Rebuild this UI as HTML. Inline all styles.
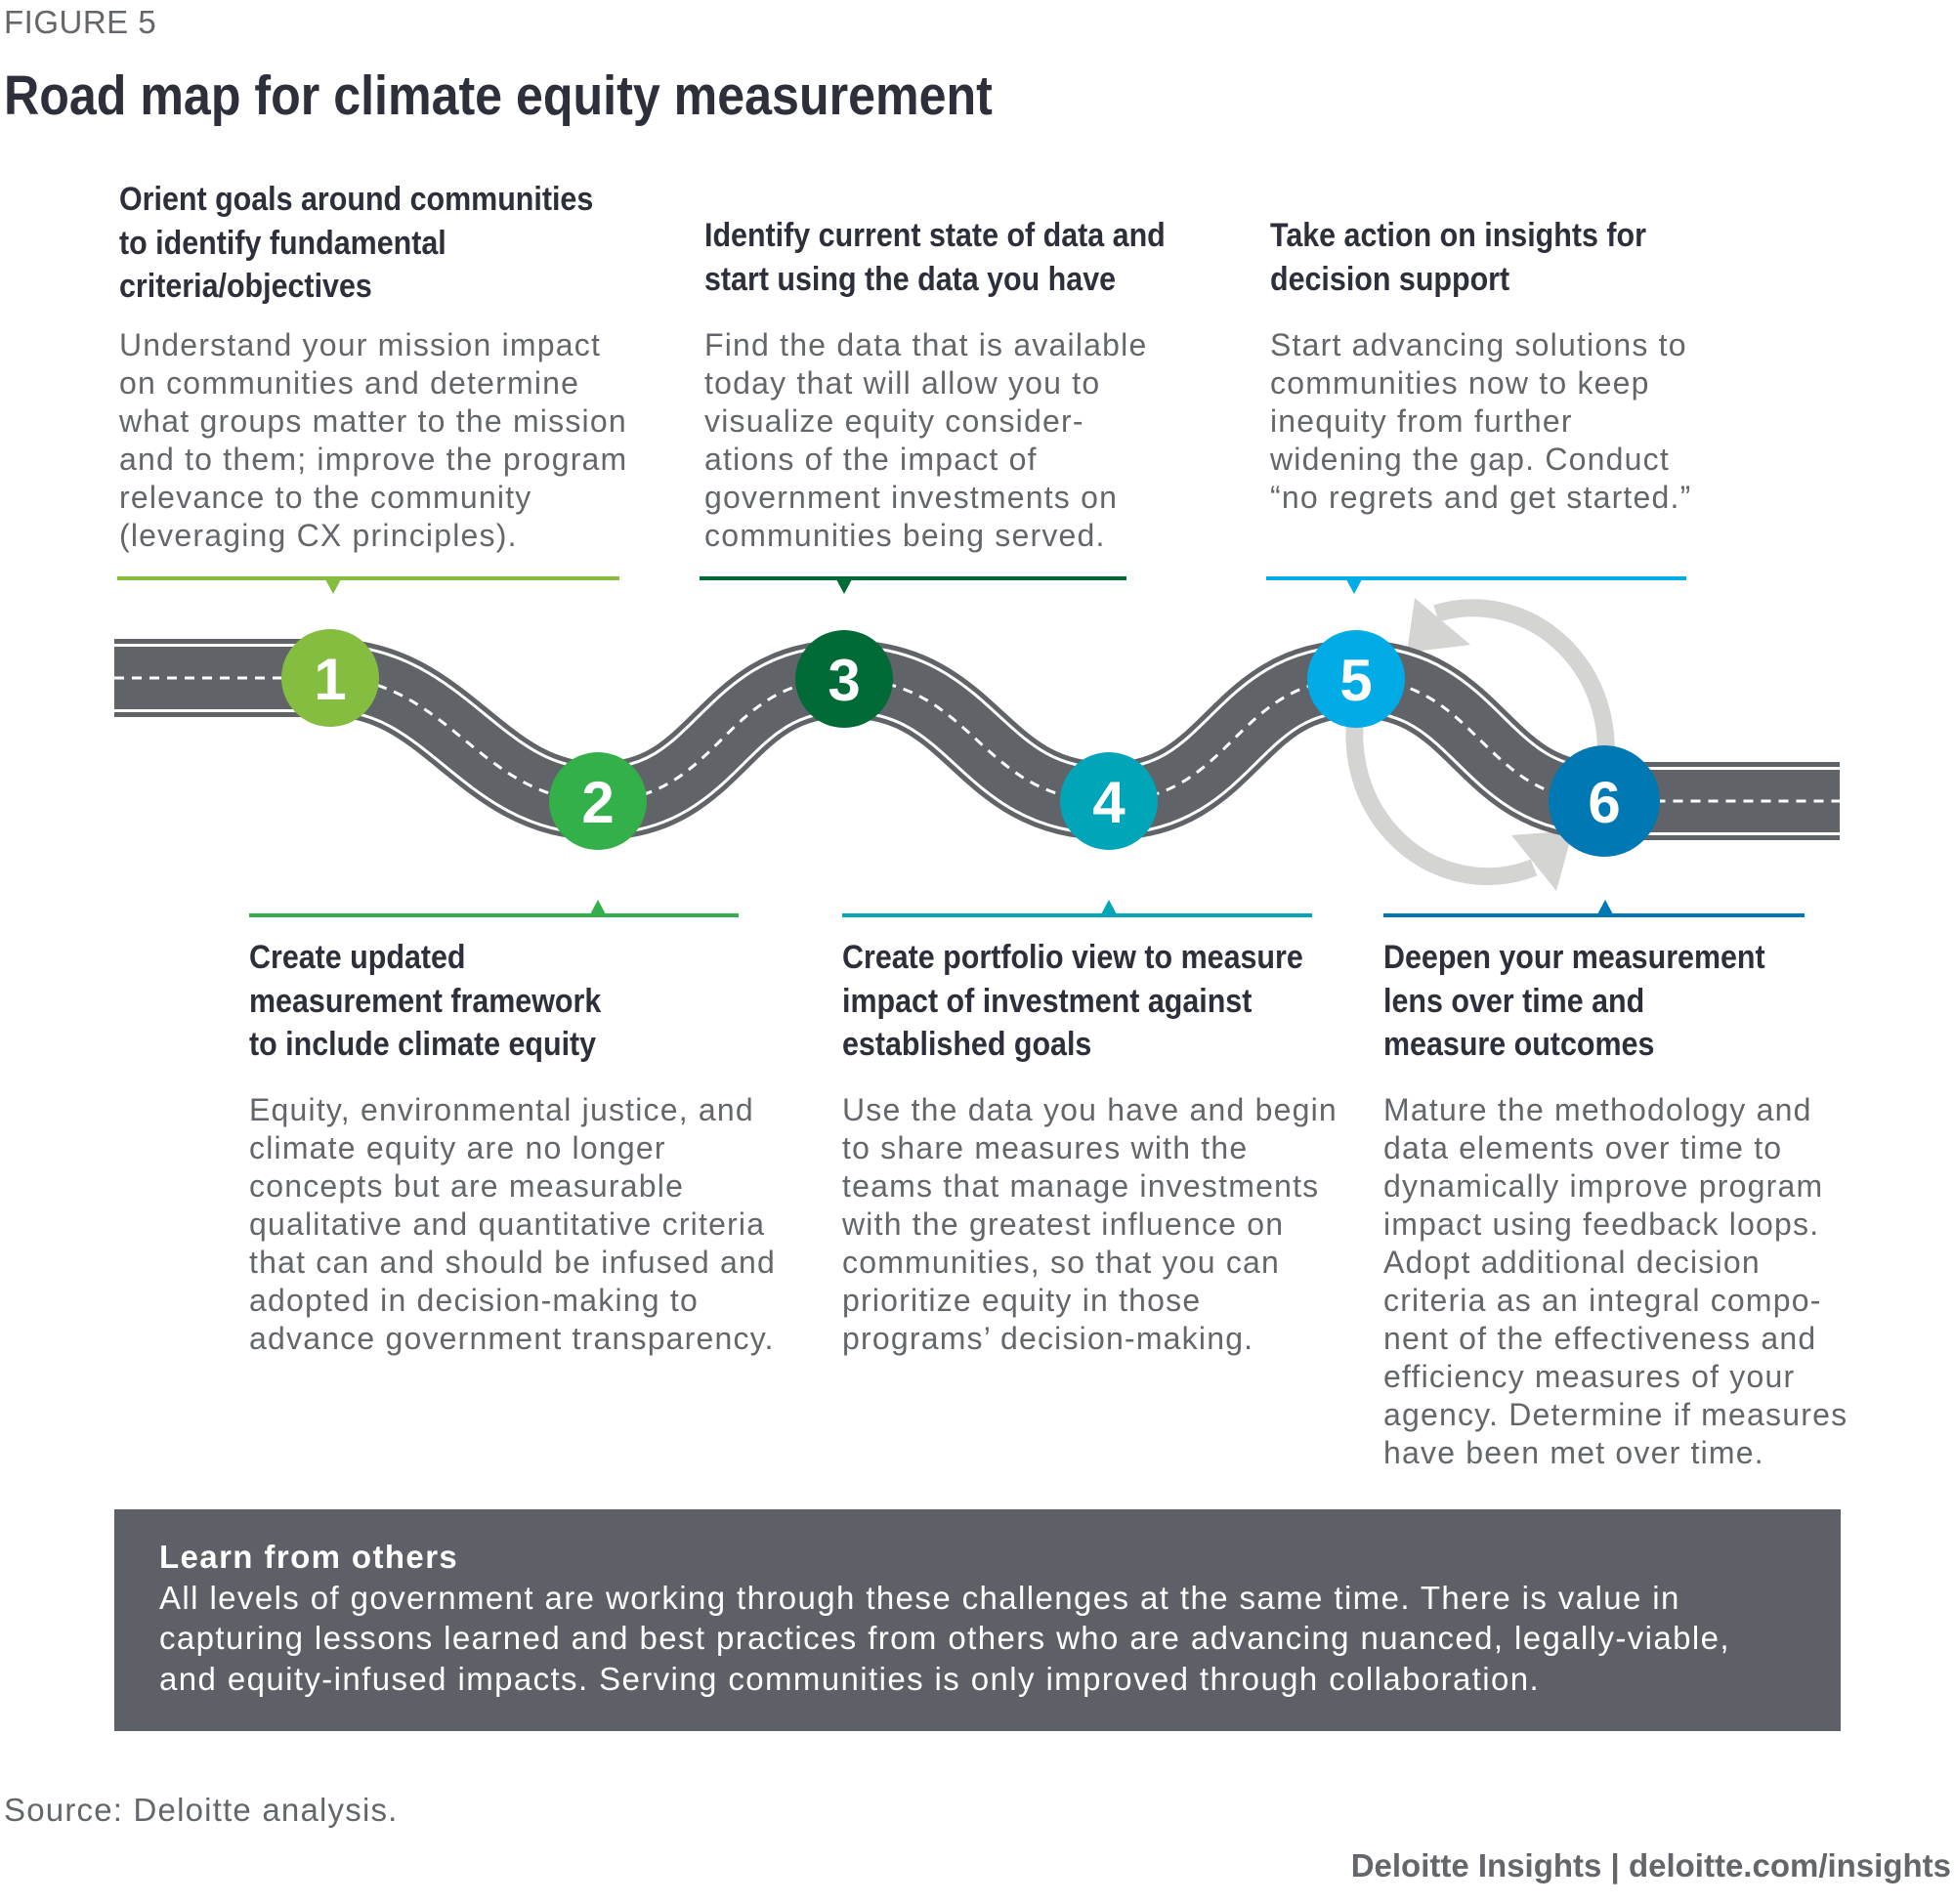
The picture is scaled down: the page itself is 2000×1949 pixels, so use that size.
<!DOCTYPE html>
<html><head><meta charset="utf-8"><style>
*{margin:0;padding:0;box-sizing:border-box}
body{width:2000px;height:1949px;background:#fff;position:relative;overflow:hidden;font-family:"Liberation Sans",sans-serif;color:#5f6368}
.a{position:absolute;white-space:nowrap}
.h{font-weight:bold;color:#2d2f3a;font-size:34px;line-height:44.6px;transform:scaleX(.895);transform-origin:0 0}
.b{font-size:32px;line-height:39px;color:#63666a;letter-spacing:1.2px}
</style></head><body>
<div class="a" style="left:4px;top:4px;font-size:33px;line-height:38px;color:#63666a;letter-spacing:.5px">FIGURE 5</div>
<div class="a" style="left:4px;top:66px;font-size:57px;line-height:64px;font-weight:bold;color:#2d2f3a;transform:scaleX(.88);transform-origin:0 0">Road map for climate equity measurement</div>

<div class="a h" style="left:122px;top:182px">Orient goals around communities<br>to identify fundamental<br>criteria/objectives</div>
<div class="a b" style="left:122px;top:334px">Understand your mission impact<br>on communities and determine<br>what groups matter to the mission<br>and to them; improve the program<br>relevance to the community<br>(leveraging CX principles).</div>

<div class="a h" style="left:721px;top:219px">Identify current state of data and<br>start using the data you have</div>
<div class="a b" style="left:721px;top:334px">Find the data that is available<br>today that will allow you to<br>visualize equity consider-<br>ations of the impact of<br>government investments on<br>communities being served.</div>

<div class="a h" style="left:1300px;top:219px">Take action on insights for<br>decision support</div>
<div class="a b" style="left:1300px;top:334px">Start advancing solutions to<br>communities now to keep<br>inequity from further<br>widening the gap. Conduct<br>“no regrets and get started.”</div>

<div class="a h" style="left:255px;top:958px">Create updated<br>measurement framework<br>to include climate equity</div>
<div class="a b" style="left:255px;top:1117px">Equity, environmental justice, and<br>climate equity are no longer<br>concepts but are measurable<br>qualitative and quantitative criteria<br>that can and should be infused and<br>adopted in decision-making to<br>advance government transparency.</div>

<div class="a h" style="left:862px;top:958px">Create portfolio view to measure<br>impact of investment against<br>established goals</div>
<div class="a b" style="left:862px;top:1117px">Use the data you have and begin<br>to share measures with the<br>teams that manage investments<br>with the greatest influence on<br>communities, so that you can<br>prioritize equity in those<br>programs’ decision-making.</div>

<div class="a h" style="left:1416px;top:958px">Deepen your measurement<br>lens over time and<br>measure outcomes</div>
<div class="a b" style="left:1416px;top:1117px">Mature the methodology and<br>data elements over time to<br>dynamically improve program<br>impact using feedback loops.<br>Adopt additional decision<br>criteria as an integral compo-<br>nent of the effectiveness and<br>efficiency measures of your<br>agency. Determine if measures<br>have been met over time.</div>

<svg class="a" style="left:0;top:0" width="2000" height="1949" viewBox="0 0 2000 1949">
<g stroke-width="4">
<line x1="120" y1="592" x2="634" y2="592" stroke="#84bd3f"/>
<line x1="716" y1="592" x2="1153" y2="592" stroke="#006b36"/>
<line x1="1296" y1="592" x2="1726" y2="592" stroke="#00abe6"/>
<line x1="255" y1="937" x2="756" y2="937" stroke="#34b04a"/>
<line x1="862" y1="937" x2="1343" y2="937" stroke="#00a5b8"/>
<line x1="1416" y1="937" x2="1847" y2="937" stroke="#0078b4"/>
</g>
<polygon points="333,593 349,593 341,608" fill="#84bd3f"/>
<polygon points="856,593 872,593 864,608" fill="#006b36"/>
<polygon points="1378,593 1394,593 1386,608" fill="#00abe6"/>
<polygon points="604,936 620,936 612,921" fill="#34b04a"/>
<polygon points="1127,936 1143,936 1135,921" fill="#00a5b8"/>
<polygon points="1635,936 1651,936 1643,921" fill="#0078b4"/>

<g fill="none" stroke="#d4d5d3" stroke-width="18">
<path d="M1640 800 A136 144 0 0 0 1470 628"/>
<path d="M1396 700 A136 144 0 0 0 1570 888"/>
</g>
<polygon points="1448,612 1505,660 1440,668" fill="#d4d5d3"/>
<polygon points="1547,855 1610,850 1593,912" fill="#d4d5d3"/>

<g fill="none">
<path id="r" d="M117 694 L338 694 C458 694 492 820 612 820 C738 820 738 695 864 695 C1000 695 1000 820 1135 820 C1262 820 1262 695 1388 695 C1515 695 1515 820 1642 820 L1883 820"/>
<use href="#r" stroke="#606368" stroke-width="80"/>
<use href="#r" stroke="#fff" stroke-width="70"/>
<use href="#r" stroke="#606368" stroke-width="64"/>
<use href="#r" stroke="#fff" stroke-width="3" stroke-dasharray="10 8"/>
</g>

<g font-family="Liberation Sans,sans-serif" font-weight="bold" font-size="60" fill="#fff" text-anchor="middle">
<circle cx="338" cy="694" r="50" fill="#84bd3f"/><text x="338" y="716">1</text>
<circle cx="612" cy="820" r="50" fill="#34b04a"/><text x="612" y="842">2</text>
<circle cx="864" cy="695" r="50" fill="#006b36"/><text x="864" y="717">3</text>
<circle cx="1135" cy="820" r="50" fill="#00a5b8"/><text x="1135" y="842">4</text>
<circle cx="1388" cy="695" r="50" fill="#00abe6"/><text x="1388" y="717">5</text>
<circle cx="1642" cy="820" r="57" fill="#0078b4"/><text x="1642" y="842">6</text>
</g>
</svg>

<div class="a" style="left:117px;top:1545px;width:1767px;height:227px;background:#5d6167;color:#fff;padding:28px 0 0 46px;font-size:33px;line-height:41.6px;white-space:nowrap;letter-spacing:1.4px">
<div style="font-weight:bold">Learn from others</div>
All levels of government are working through these challenges at the same time. There is value in<br>capturing lessons learned and best practices from others who are advancing nuanced, legally-viable,<br>and equity-infused impacts. Serving communities is only improved through collaboration.</div>

<div class="a" style="left:4px;top:1833px;font-size:33px;line-height:40px;color:#63666a;letter-spacing:1.2px">Source: Deloitte analysis.</div>
<div class="a" style="right:3px;top:1890px;font-size:33px;line-height:40px;font-weight:bold;color:#63666a">Deloitte Insights | deloitte.com/insights</div>
</body></html>
